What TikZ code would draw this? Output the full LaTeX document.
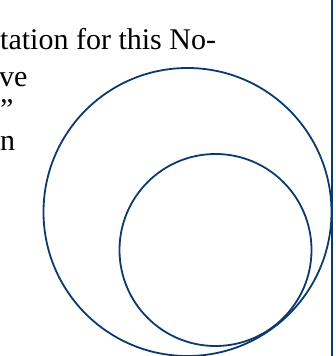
\documentclass[tikz,border=0pt]{standalone}
\usepackage{fontspec}
\setmainfont{Liberation Serif}
\usepackage{tikz}
\definecolor{navy}{RGB}{12,58,108}

\begin{document}
\begin{tikzpicture}[
      x=1pt, y=-1pt,
      font=\fontsize{30}{34}\selectfont,
      ring/.style={draw=navy, line width=1.8pt, circle, inner sep=0pt},
      txt/.style={anchor=base west, inner sep=0pt},
    ]
    \useasboundingbox (0,0) rectangle (336,356);
    \node[txt] (l1) at (0,49)   {tation for this No-};
    \node[txt] (l2) at (-1,86)  {ve};
    \node[txt] (l3) at (0,119)  {”};
    \node[txt] (l4) at (0,150)  {n};
    \node[ring, minimum size=288pt] (outer) at (187.5,212) {};
    \node[ring, minimum size=192pt] (inner) at (215.5,250) {};
    \draw[navy, line width=1.8pt] (331.8,0) -- (331.8,356);
  \end{tikzpicture}
\end{document}
